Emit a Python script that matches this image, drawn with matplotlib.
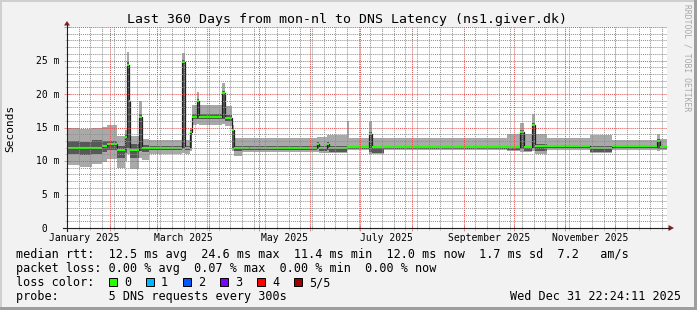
import matplotlib
matplotlib.use("Agg")
import matplotlib.pyplot as plt
import matplotlib.dates as mdates
import matplotlib.transforms as mtransforms
from matplotlib.lines import Line2D
from matplotlib.patches import Rectangle, Polygon
from matplotlib.ticker import MultipleLocator, NullFormatter
from datetime import datetime
import numpy as np

# ---- data (values in ms) ----
seg_start = ["2025-01-05", "2025-01-14", "2025-01-21", "2025-01-27", "2025-01-30",
             "2025-02-05", "2025-02-10", "2025-02-11", "2025-02-12", "2025-02-13",
             "2025-02-18", "2025-02-20", "2025-02-24", "2025-03-16", "2025-03-18",
             "2025-03-21", "2025-03-22", "2025-03-25", "2025-03-26", "2025-04-09",
             "2025-04-11", "2025-04-15", "2025-04-16", "2025-04-21", "2025-04-25",
             "2025-04-26", "2025-06-05", "2025-06-06", "2025-06-11", "2025-06-12",
             "2025-06-23", "2025-06-24", "2025-07-06", "2025-07-08", "2025-07-15",
             "2025-09-27", "2025-10-05", "2025-10-07", "2025-10-12", "2025-10-14",
             "2025-10-21", "2025-11-16", "2025-11-29", "2025-12-26", "2025-12-28"]
median_ms = [12.0, 11.9, 12.0, 12.2, 12.6, 11.6, 13.6, 24.4, 18.9, 11.6,
             16.6, 12.0, 11.9, 24.8, 11.9, 14.4, 16.6, 18.9, 16.6, 20.1,
             16.4, 14.6, 11.9, 11.9, 11.9, 11.9, 12.6, 11.9, 12.6, 11.9,
             12.1, 12.1, 14.1, 12.1, 12.1, 12.1, 14.4, 12.1, 15.4, 12.2,
             12.2, 12.0, 12.2, 13.0, 12.1]
inner_lo = [11.0, 10.9, 11.1, 11.4, 11.7, 10.5, 11.2, 12.0, 12.0, 10.4,
            11.5, 11.4, 11.6, 12.0, 11.6, 12.0, 16.2, 16.3, 16.2, 16.3,
            16.0, 12.0, 11.5, 11.7, 11.7, 11.7, 11.8, 11.5, 11.7, 11.4,
            11.8, 11.8, 11.4, 11.2, 11.8, 11.6, 11.8, 11.5, 12.0, 11.5,
            11.9, 11.3, 11.9, 11.8, 11.8]
inner_hi = [13.0, 12.9, 13.1, 13.0, 13.0, 12.3, 14.0, 24.8, 19.4, 12.5,
            17.0, 12.4, 12.2, 25.1, 12.2, 14.7, 17.0, 19.3, 17.0, 20.5,
            16.8, 15.0, 12.3, 12.2, 12.2, 12.2, 12.8, 12.2, 12.8, 12.2,
            12.3, 12.3, 14.4, 12.3, 12.3, 12.3, 14.7, 12.3, 15.7, 12.5,
            12.4, 12.3, 12.4, 13.3, 12.3]
outer_lo = [9.4, 9.1, 9.6, 9.8, 10.3, 8.9, 10.0, 11.0, 11.0, 8.8,
            10.5, 10.2, 11.1, 11.2, 11.1, 11.5, 15.4, 15.5, 15.4, 15.5,
            15.2, 11.5, 10.8, 11.4, 11.4, 11.4, 11.3, 11.2, 11.2, 11.2,
            11.6, 11.6, 11.0, 11.0, 11.7, 11.5, 11.4, 11.4, 11.5, 11.1,
            11.6, 11.2, 11.7, 11.5, 11.6]
outer_hi = [15.0, 14.8, 15.0, 15.1, 15.3, 13.8, 14.6, 26.3, 20.6, 13.8,
            18.9, 13.3, 13.2, 26.1, 13.1, 15.0, 18.4, 20.3, 18.4, 21.6,
            18.2, 15.4, 13.4, 13.4, 13.4, 13.4, 13.6, 13.6, 13.9, 13.9,
            16.0, 13.4, 16.0, 13.4, 13.5, 14.0, 15.6, 14.0, 17.0, 14.1,
            13.4, 13.9, 13.2, 14.1, 13.3]
seg_loss = [0] * 24 + [1] + [0] * 20

loss_labels = ["0", "1", "2", "3", "4", "5/5"]
loss_colors = ["#26ff00", "#00b8ff", "#0059ff", "#7e00ff", "#ff0000", "#a10000"]

label_months = [1, 3, 5, 7, 9, 11]
y_ticks = [0, 5, 10, 15, 20, 25]
y_tick_labels = [" 0", " 5 m", "10 m", "15 m", "20 m", "25 m"]

t_start = datetime(2025, 1, 5, 22, 24, 11)
t_end = datetime(2025, 12, 31, 22, 24, 11)

title = "Last 360 Days from mon-nl to DNS Latency (ns1.giver.dk)"
legend_rows = [
    "median rtt:  12.5 ms avg  24.6 ms max  11.4 ms min  12.0 ms now  1.7 ms sd  7.2   am/s",
    "packet loss: 0.00 % avg  0.07 % max  0.00 % min  0.00 % now",
]
probe_text = "probe:       5 DNS requests every 300s"
stamp_text = "Wed Dec 31 22:24:11 2025"

# ---- figure ----
plt.rcParams['font.family'] = ['DejaVu Sans Mono']
W, H = 697, 310
fig = plt.figure(figsize=(W / 100, H / 100), dpi=100)
fig.patch.set_facecolor('#f2f2f2')


def fx(px):
    return px / W


def fy(py):
    return 1 - py / H


# 3d-ish frame round the canvas
fig.add_artist(Rectangle((0, fy(2)), 1, 2 / H, transform=fig.transFigure, color='#cfcfcf', lw=0))
fig.add_artist(Rectangle((0, 0), 2 / W, 1, transform=fig.transFigure, color='#cfcfcf', lw=0))
fig.add_artist(Rectangle((0, 0), 1, 3 / H, transform=fig.transFigure, color='#9e9e9e', lw=0))
fig.add_artist(Rectangle((fx(694), 0), 3 / W, 1, transform=fig.transFigure, color='#9e9e9e', lw=0))

ax = fig.add_axes([fx(67), fy(228), (667 - 67) / W, (228 - 27) / H])
ax.set_facecolor('white')
for s in ax.spines.values():
    s.set_visible(False)

x = mdates.datestr2num(seg_start)
xs = np.append(x, mdates.date2num(t_end))


def close(v):
    v = np.asarray(v, float)
    return np.append(v, v[-1])


ax.fill_between(xs, close(outer_lo), close(outer_hi), step='post', facecolor='#a9a9a9', lw=0, zorder=1)
ax.fill_between(xs, close(inner_lo), close(inner_hi), step='post', facecolor='#585858', lw=0, zorder=1.1)
ax.step(xs, close(median_ms), where='post', color='#202020', lw=0.9, zorder=1.2)
ax.hlines(median_ms, xs[:-1], xs[1:], colors=[loss_colors[l] for l in seg_loss], lw=1.5, zorder=1.3)

ax.set_xlim(mdates.date2num(t_start), mdates.date2num(t_end))
ax.set_ylim(0, 30)

ax.xaxis.set_major_locator(mdates.MonthLocator())
ax.xaxis.set_minor_locator(mdates.WeekdayLocator(byweekday=mdates.MO))
ax.yaxis.set_major_locator(MultipleLocator(5))
ax.yaxis.set_minor_locator(MultipleLocator(1))
ax.xaxis.set_major_formatter(NullFormatter())
ax.yaxis.set_major_formatter(NullFormatter())

ax.set_axisbelow(False)
ax.grid(which='minor', color=(0.56, 0.56, 0.56, 0.3), lw=0.7, ls=(0, (1, 1)))
ax.grid(which='major', color=(0.87, 0.31, 0.31, 0.38), lw=0.7, ls=(0, (1, 1)))
ax.tick_params(which='major', direction='inout', length=4, width=0.7,
               color=(0.87, 0.31, 0.31, 0.6), top=False, right=False)
ax.tick_params(which='minor', direction='inout', length=3, width=0.7,
               color=(0.56, 0.56, 0.56, 0.5), top=False, right=False)

# axis lines and arrows
axis_col, arrow_col = '#1f1f1f', '#801f1f'
fig.add_artist(Line2D([fx(67), fx(67)], [fy(231), fy(25)], color=axis_col, lw=0.8))
fig.add_artist(Line2D([fx(63), fx(669)], [fy(228), fy(228)], color=axis_col, lw=0.8))
fig.add_artist(Polygon([(fx(64), fy(25.5)), (fx(70), fy(25.5)), (fx(67), fy(21))],
                       closed=True, color=arrow_col, lw=0))
fig.add_artist(Polygon([(fx(668.5), fy(225)), (fx(668.5), fy(231)), (fx(674), fy(228))],
                       closed=True, color=arrow_col, lw=0))

# x labels centred on the month
tx = mtransforms.blended_transform_factory(ax.transData, fig.transFigure)
for m in label_months:
    a = mdates.date2num(datetime(2025, m, 1))
    b = mdates.date2num(datetime(2025, m + 1, 1))
    ax.text((a + b) / 2, fy(241), datetime(2025, m, 1).strftime('%B %Y'),
            transform=tx, ha='center', va='baseline', fontsize=7, clip_on=False)

# y labels
ty = mtransforms.blended_transform_factory(fig.transFigure, ax.transData) + \
    mtransforms.ScaledTranslation(0, -3.5 / 100, fig.dpi_scale_trans)
for v, lab in zip(y_ticks, y_tick_labels):
    fig.text(fx(36), v, lab, transform=ty, ha='left', va='baseline', fontsize=7)

fig.text(fx(347), fy(23), title, ha='center', va='baseline', fontsize=9.5)
fig.text(fx(10.5), fy(128), 'Seconds', rotation=90, ha='center', va='center', fontsize=8)
fig.text(fx(687.5), fy(58), 'RRDTOOL / TOBI OETIKER', rotation=270, ha='center', va='center',
         fontsize=5.8, color='#a8a8a8')

# legend
for i, row in enumerate(legend_rows):
    fig.text(fx(16), fy(258 + 14 * i), row, ha='left', va='baseline', fontsize=8.5)
fig.text(fx(16), fy(286), 'loss color:', ha='left', va='baseline', fontsize=8.5)
for i, (lab, col) in enumerate(zip(loss_labels, loss_colors)):
    bx = 108.5 + 37 * i
    fig.add_artist(Rectangle((fx(bx), fy(286)), 8 / W, 8 / H, transform=fig.transFigure,
                             facecolor=col, edgecolor='black', lw=0.7))
    fig.text(fx(bx + 15.5), fy(286), lab, ha='left', va='baseline', fontsize=8.5)
fig.text(fx(16), fy(300), probe_text, ha='left', va='baseline', fontsize=8.5)
fig.text(fx(681), fy(300), stamp_text, ha='right', va='baseline', fontsize=8.5)

fig.savefig('out.png', dpi=100, facecolor=fig.get_facecolor())
